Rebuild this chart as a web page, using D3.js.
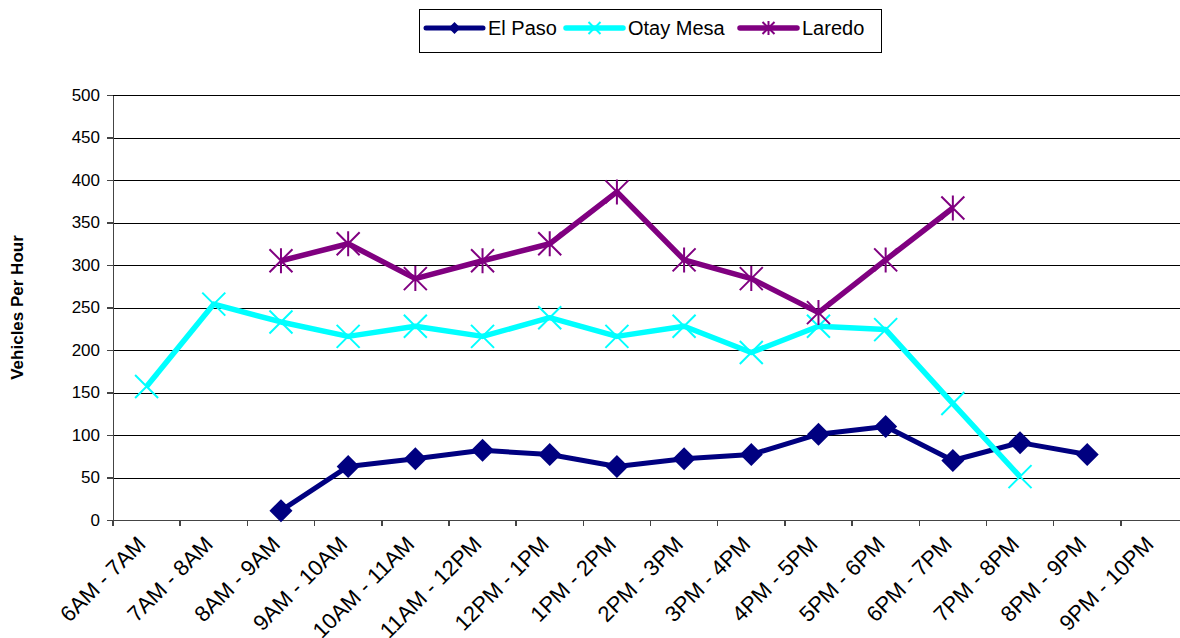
<!DOCTYPE html>
<html>
<head>
<meta charset="utf-8">
<script src="https://cdn.jsdelivr.net/npm/d3@7"></script>
<style>
  body { margin: 0; background: #fff; }
  svg { display: block; font-family: Arial, "Liberation Sans", sans-serif; }
  .grid line { stroke: #000; stroke-width: 1; shape-rendering: crispEdges; }
  .grid path { display: none; }
  .axis path, .axis line { stroke: #444; stroke-width: 1.5; shape-rendering: crispEdges; }
  .axis text { fill: #000; }
</style>
</head>
<body>
<div id="chart"></div>
<script>

      // categories along the x axis
      var hours = ["6AM - 7AM", "7AM - 8AM", "8AM - 9AM", "9AM - 10AM", "10AM - 11AM",
                   "11AM - 12PM", "12PM - 1PM", "1PM - 2PM", "2PM - 3PM", "3PM - 4PM",
                   "4PM - 5PM", "5PM - 6PM", "6PM - 7PM", "7PM - 8PM", "8PM - 9PM", "9PM - 10PM"];

      // vehicles per hour, null where there is no reading
      var elPaso   = [null, null, 11, 63, 72, 82, 77, 63, 72, 77, 101, 110, 70, 91, 77, null];
      var otayMesa = [157, 254, 233, 216, 228, 216, 238, 216, 228, 197, 228, 224, 137, 51, null, null];
      var laredo   = [null, null, 305, 325, 284, 305, 325, 386, 306, 284, 244, 306, 367, null, null, null];

      var yTicks = [0, 50, 100, 150, 200, 250, 300, 350, 400, 450, 500];

      var series = [
        {name: "El Paso", values: elPaso, color: "#000080", width: 5, marker: "diamond"},
        {name: "Otay Mesa", values: otayMesa, color: "#00FFFF", width: 5.5, marker: "cross"},
        {name: "Laredo", values: laredo, color: "#800080", width: 5.5, marker: "star"}
      ];

      var margin = {top: 95, right: 0, bottom: 118, left: 113};

      var width = 1075,
          height = 638 - margin.top - margin.bottom;

      var svg = d3.select("#chart").append("svg")
                .attr("width", 1180)
                .attr("height", 638);

      var canvas = svg.append("g")
                .attr("transform", "translate(" + margin.left + "," + margin.top + ")");

      ////// Define Scales /////////////////
      var xScale = d3.scaleBand()
          .domain(hours)
          .range([0, width]);
      var yScale = d3.scaleLinear()
          .domain([0, 500])
          .range([height, 0]);

      // Create grids.
      canvas.append("g")
        .attr("class", "grid")
        .call(d3.axisLeft(yScale).tickValues(yTicks.slice(1)).tickSize(-width).tickFormat(""));

      /////// Axes //////////////////////////////
      var yAxis = canvas.append("g")
          .attr("class", "axis")
          .call(d3.axisLeft(yScale).tickValues(yTicks).tickSize(6).tickSizeOuter(0).tickPadding(7));
      yAxis.selectAll("text").style("font-size", "17px");

      var xAxis = canvas.append("g")
          .attr("class", "axis")
          .attr("transform", "translate(0," + height + ")")
          .call(d3.axisBottom(xScale).tickSize(0).tickSizeOuter(0));

      // tick marks sit on the category boundaries, not the centres
      xAxis.selectAll(".tick line").remove();
      xAxis.selectAll(".boundary")
          .data(hours)
          .enter()
          .append("line")
          .attr("class", "boundary")
          .attr("x1", function(d) { return xScale(d); })
          .attr("x2", function(d) { return xScale(d); })
          .attr("y1", 0)
          .attr("y2", 6);

      xAxis.selectAll(".tick text")
          .style("font-size", "22px")
          .attr("text-anchor", "end")
          .attr("x", 0)
          .attr("y", 0)
          .attr("dy", "0.35em")
          .attr("transform", "translate(-5,20) rotate(-45)");

      // y axis title
      svg.append("text")
          .attr("transform", "translate(23," + (margin.top + height / 2) + ") rotate(-90)")
          .attr("text-anchor", "middle")
          .style("font-size", "17px")
          .style("font-weight", "bold")
          .text("Vehicles Per Hour");

      function cx(i) {
          return xScale(hours[i]) + xScale.bandwidth() / 2;
      }

      function drawMarker(g, type, color, s) {
          if (type === "diamond") {
              g.append("path")
                .attr("d", "M0," + (-s) + "L" + s + ",0L0," + s + "L" + (-s) + ",0Z")
                .attr("fill", color);
          } else {
              g.append("path")
                .attr("d", "M" + (-s) + "," + (-s) + "L" + s + "," + s + "M" + (-s) + "," + s + "L" + s + "," + (-s) +
                      (type === "star" ? "M0," + (-s - 1) + "L0," + (s + 1) : ""))
                .attr("fill", "none")
                .attr("stroke", color)
                .attr("stroke-width", 2);
          }
      }

      // lines and markers for each crossing
      series.forEach(function(s) {
          var pts = s.values.map(function(v, i) { return {i: i, v: v}; })
                            .filter(function(d) { return d.v !== null; });

          var line = d3.line()
              .x(function(d) { return cx(d.i); })
              .y(function(d) { return yScale(d.v); });

          canvas.append("path")
              .datum(pts)
              .attr("fill", "none")
              .attr("stroke", s.color)
              .attr("stroke-width", s.width)
              .attr("stroke-linejoin", "round")
              .attr("d", line);

          canvas.append("g")
              .selectAll("g")
              .data(pts)
              .enter()
              .append("g")
              .attr("transform", function(d) { return "translate(" + cx(d.i) + "," + yScale(d.v) + ")"; })
              .each(function() { drawMarker(d3.select(this), s.marker, s.color, 11.5); });
      });

      ////// Legend //////////////////////
      var legend = svg.append("g");
      legend.append("rect")
          .attr("x", 419.5).attr("y", 9.5)
          .attr("width", 462).attr("height", 43)
          .attr("fill", "#fff").attr("stroke", "#000").attr("stroke-width", 1);

      var legendX = [426, 566, 740];
      series.forEach(function(s, k) {
          var g = legend.append("g").attr("transform", "translate(" + legendX[k] + ",28)");
          g.append("line")
            .attr("x1", 0).attr("x2", 57)
            .attr("y1", 0).attr("y2", 0)
            .attr("stroke", s.color)
            .attr("stroke-width", s.width)
            .attr("stroke-linecap", "round");
          var m = g.append("g").attr("transform", "translate(28.5,0)");
          drawMarker(m, s.marker, s.color, 6);
          g.append("text")
            .attr("x", 62)
            .attr("y", 7)
            .style("font-size", "20px")
            .text(s.name);
      });

</script>
</body>
</html>
